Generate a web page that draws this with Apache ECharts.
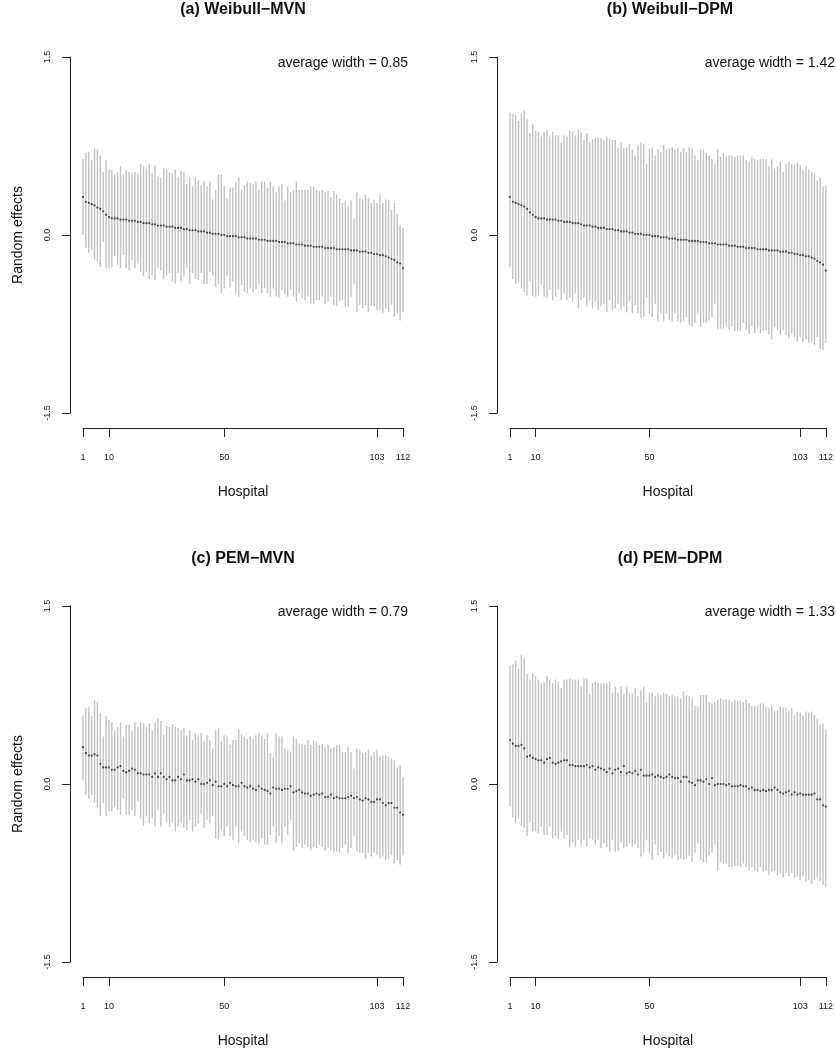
<!DOCTYPE html>
<html>
<head>
<meta charset="utf-8">
<script src="https://cdn.jsdelivr.net/npm/echarts@6/dist/echarts.min.js"></script>
<style>
  html, body { margin: 0; padding: 0; background: #fff; }
  #chart { width: 836px; height: 1050px; }
</style>
</head>
<body>
<div id="chart"></div>
<script>
// tick positions on both axes
const hospitalTicks = [1, 10, 50, 103, 112];
const effectTicks = [-1.5, 0, 1.5];

// (a) Weibull-MVN
const estA = [
  0.32,0.28,0.27,0.26,0.25,0.23,0.22,0.20,0.17,0.15,
  0.14,0.14,0.14,0.13,0.13,0.13,0.12,0.12,0.12,0.11,
  0.11,0.10,0.10,0.10,0.09,0.09,0.08,0.08,0.08,0.07,
  0.07,0.07,0.06,0.06,0.06,0.05,0.05,0.04,0.04,0.04,
  0.03,0.03,0.03,0.02,0.02,0.01,0.01,0.01,0.00,0.00,
  -0.01,-0.01,-0.01,-0.01,-0.02,-0.02,-0.02,-0.03,-0.03,-0.03,
  -0.03,-0.04,-0.04,-0.04,-0.05,-0.05,-0.05,-0.05,-0.06,-0.06,
  -0.06,-0.07,-0.07,-0.07,-0.08,-0.08,-0.08,-0.09,-0.09,-0.09,
  -0.10,-0.10,-0.10,-0.10,-0.11,-0.11,-0.11,-0.11,-0.12,-0.12,
  -0.12,-0.12,-0.12,-0.13,-0.13,-0.13,-0.14,-0.14,-0.14,-0.15,
  -0.15,-0.16,-0.16,-0.17,-0.17,-0.18,-0.19,-0.20,-0.21,-0.23,
  -0.24,-0.28
];
const upA = [
  0.64,0.69,0.70,0.63,0.73,0.72,0.67,0.53,0.63,0.55,
  0.55,0.51,0.53,0.58,0.51,0.55,0.53,0.52,0.53,0.52,
  0.60,0.58,0.56,0.60,0.52,0.59,0.49,0.48,0.56,0.55,
  0.53,0.52,0.55,0.49,0.54,0.53,0.43,0.49,0.41,0.48,
  0.46,0.42,0.45,0.41,0.45,0.30,0.38,0.51,0.51,0.41,
  0.31,0.40,0.40,0.45,0.49,0.38,0.42,0.45,0.44,0.43,
  0.45,0.38,0.45,0.45,0.40,0.45,0.41,0.36,0.41,0.43,
  0.29,0.41,0.36,0.38,0.45,0.38,0.38,0.38,0.38,0.41,
  0.41,0.38,0.37,0.38,0.36,0.37,0.32,0.37,0.34,0.31,
  0.27,0.29,0.24,0.29,0.14,0.36,0.31,0.30,0.34,0.31,
  0.27,0.30,0.27,0.34,0.27,0.30,0.29,0.21,0.27,0.18,
  0.08,0.06
];
const lowA = [
  0.00,-0.11,-0.15,-0.13,-0.21,-0.22,-0.27,-0.06,-0.28,-0.28,
  -0.27,-0.18,-0.25,-0.28,-0.17,-0.28,-0.30,-0.21,-0.28,-0.24,
  -0.31,-0.35,-0.31,-0.37,-0.34,-0.38,-0.28,-0.30,-0.37,-0.34,
  -0.32,-0.39,-0.41,-0.32,-0.39,-0.35,-0.28,-0.41,-0.32,-0.37,
  -0.38,-0.32,-0.41,-0.41,-0.31,-0.34,-0.44,-0.41,-0.49,-0.45,
  -0.34,-0.44,-0.39,-0.49,-0.52,-0.42,-0.48,-0.49,-0.45,-0.48,
  -0.46,-0.41,-0.49,-0.45,-0.49,-0.52,-0.45,-0.52,-0.53,-0.46,
  -0.50,-0.52,-0.46,-0.52,-0.56,-0.49,-0.53,-0.55,-0.52,-0.58,
  -0.58,-0.55,-0.55,-0.52,-0.58,-0.56,-0.52,-0.59,-0.60,-0.56,
  -0.55,-0.60,-0.60,-0.52,-0.42,-0.65,-0.59,-0.62,-0.59,-0.65,
  -0.60,-0.60,-0.63,-0.63,-0.66,-0.62,-0.65,-0.59,-0.69,-0.66,
  -0.72,-0.65
];

// (b) Weibull-DPM
const estB = [
  0.32,0.28,0.27,0.26,0.25,0.24,0.22,0.19,0.17,0.15,
  0.14,0.14,0.14,0.13,0.13,0.13,0.13,0.12,0.12,0.11,
  0.11,0.11,0.10,0.10,0.10,0.09,0.08,0.08,0.08,0.07,
  0.07,0.06,0.06,0.06,0.05,0.05,0.05,0.04,0.04,0.03,
  0.03,0.03,0.02,0.02,0.01,0.01,0.01,0.00,0.00,0.00,
  -0.01,-0.01,-0.01,-0.02,-0.02,-0.02,-0.03,-0.03,-0.03,-0.04,
  -0.04,-0.04,-0.04,-0.05,-0.05,-0.05,-0.05,-0.06,-0.06,-0.06,
  -0.07,-0.07,-0.07,-0.08,-0.08,-0.08,-0.08,-0.09,-0.09,-0.09,
  -0.10,-0.10,-0.10,-0.11,-0.11,-0.11,-0.11,-0.12,-0.12,-0.12,
  -0.12,-0.13,-0.13,-0.13,-0.13,-0.14,-0.14,-0.14,-0.15,-0.15,
  -0.16,-0.16,-0.17,-0.17,-0.18,-0.18,-0.19,-0.20,-0.22,-0.23,
  -0.25,-0.30
];
const upB = [
  1.03,1.02,1.01,0.96,1.02,1.05,0.98,0.86,0.94,0.88,
  0.87,0.83,0.87,0.88,0.83,0.87,0.84,0.84,0.78,0.84,
  0.83,0.88,0.87,0.84,0.89,0.87,0.80,0.86,0.78,0.81,
  0.82,0.82,0.82,0.80,0.83,0.81,0.80,0.80,0.74,0.78,
  0.73,0.74,0.77,0.72,0.67,0.76,0.78,0.77,0.60,0.73,
  0.74,0.67,0.72,0.70,0.76,0.72,0.73,0.74,0.72,0.73,
  0.70,0.73,0.70,0.74,0.73,0.67,0.63,0.72,0.72,0.69,
  0.67,0.64,0.60,0.72,0.66,0.69,0.67,0.67,0.67,0.66,
  0.67,0.67,0.67,0.63,0.62,0.66,0.64,0.63,0.64,0.64,
  0.64,0.58,0.64,0.56,0.58,0.62,0.53,0.60,0.62,0.60,
  0.59,0.61,0.59,0.55,0.58,0.55,0.53,0.52,0.46,0.48,
  0.41,0.42
];
const lowB = [
  -0.27,-0.37,-0.41,-0.39,-0.45,-0.48,-0.51,-0.39,-0.51,-0.52,
  -0.51,-0.42,-0.52,-0.53,-0.46,-0.55,-0.52,-0.46,-0.55,-0.49,
  -0.55,-0.53,-0.56,-0.49,-0.62,-0.55,-0.53,-0.60,-0.55,-0.62,
  -0.56,-0.63,-0.60,-0.58,-0.65,-0.55,-0.63,-0.62,-0.58,-0.63,
  -0.60,-0.65,-0.56,-0.66,-0.59,-0.66,-0.70,-0.69,-0.53,-0.66,
  -0.69,-0.58,-0.73,-0.66,-0.73,-0.66,-0.72,-0.73,-0.66,-0.73,
  -0.74,-0.73,-0.69,-0.76,-0.77,-0.74,-0.66,-0.77,-0.74,-0.74,
  -0.72,-0.69,-0.58,-0.80,-0.79,-0.79,-0.77,-0.80,-0.77,-0.81,
  -0.81,-0.81,-0.74,-0.80,-0.83,-0.77,-0.83,-0.79,-0.83,-0.81,
  -0.80,-0.84,-0.88,-0.77,-0.80,-0.84,-0.80,-0.84,-0.87,-0.83,
  -0.86,-0.90,-0.86,-0.90,-0.88,-0.91,-0.90,-0.93,-0.86,-0.96,
  -0.97,-0.91
];

// (c) PEM-MVN
const estC = [
  0.31,0.26,0.24,0.24,0.25,0.24,0.17,0.14,0.14,0.14,
  0.12,0.12,0.14,0.15,0.11,0.10,0.11,0.13,0.12,0.09,
  0.09,0.08,0.08,0.08,0.06,0.09,0.06,0.09,0.06,0.04,
  0.06,0.03,0.03,0.06,0.04,0.08,0.03,0.03,0.04,0.02,
  0.04,0.00,0.00,0.01,0.03,-0.01,0.02,-0.02,-0.02,0.00,
  -0.02,0.01,-0.01,-0.02,-0.02,0.01,-0.02,-0.03,-0.02,-0.04,
  -0.05,-0.02,-0.04,-0.05,-0.06,-0.08,-0.03,-0.04,-0.04,-0.05,
  -0.04,-0.04,-0.02,-0.07,-0.06,-0.05,-0.07,-0.08,-0.08,-0.10,
  -0.09,-0.08,-0.09,-0.08,-0.11,-0.11,-0.09,-0.12,-0.11,-0.12,
  -0.12,-0.12,-0.11,-0.10,-0.12,-0.11,-0.13,-0.14,-0.12,-0.13,
  -0.15,-0.15,-0.13,-0.13,-0.16,-0.18,-0.16,-0.16,-0.20,-0.20,
  -0.24,-0.26
];
const upC = [
  0.58,0.64,0.65,0.57,0.71,0.69,0.60,0.40,0.57,0.54,
  0.52,0.45,0.48,0.52,0.40,0.50,0.50,0.45,0.52,0.48,
  0.52,0.51,0.48,0.51,0.45,0.52,0.55,0.53,0.41,0.49,
  0.48,0.50,0.48,0.47,0.45,0.47,0.41,0.45,0.37,0.43,
  0.41,0.43,0.36,0.41,0.37,0.30,0.45,0.47,0.36,0.41,
  0.40,0.33,0.37,0.37,0.46,0.42,0.40,0.38,0.40,0.38,
  0.41,0.43,0.41,0.38,0.43,0.26,0.23,0.43,0.40,0.40,
  0.30,0.29,0.27,0.40,0.38,0.34,0.34,0.33,0.37,0.33,
  0.37,0.36,0.33,0.34,0.31,0.33,0.30,0.31,0.33,0.33,
  0.27,0.27,0.31,0.27,0.13,0.30,0.29,0.26,0.27,0.29,
  0.24,0.27,0.29,0.23,0.24,0.24,0.23,0.22,0.20,0.14,
  0.16,0.06
];
const lowC = [
  0.03,-0.09,-0.12,-0.09,-0.16,-0.20,-0.27,-0.16,-0.27,-0.23,
  -0.23,-0.19,-0.22,-0.26,-0.12,-0.26,-0.26,-0.22,-0.27,-0.15,
  -0.29,-0.35,-0.27,-0.33,-0.29,-0.36,-0.22,-0.36,-0.25,-0.32,
  -0.36,-0.32,-0.40,-0.36,-0.33,-0.37,-0.39,-0.30,-0.40,-0.36,
  -0.33,-0.25,-0.37,-0.30,-0.33,-0.27,-0.46,-0.47,-0.39,-0.44,
  -0.36,-0.44,-0.47,-0.36,-0.50,-0.40,-0.44,-0.47,-0.49,-0.47,
  -0.49,-0.50,-0.46,-0.51,-0.51,-0.43,-0.36,-0.50,-0.44,-0.50,
  -0.36,-0.43,-0.30,-0.56,-0.53,-0.50,-0.54,-0.51,-0.53,-0.56,
  -0.53,-0.54,-0.51,-0.53,-0.56,-0.54,-0.56,-0.58,-0.57,-0.58,
  -0.54,-0.51,-0.58,-0.54,-0.44,-0.57,-0.58,-0.58,-0.63,-0.58,
  -0.61,-0.58,-0.60,-0.63,-0.61,-0.64,-0.63,-0.60,-0.67,-0.64,
  -0.68,-0.60
];

// (d) PEM-DPM
const estD = [
  0.37,0.34,0.32,0.32,0.33,0.30,0.23,0.24,0.22,0.21,
  0.20,0.20,0.18,0.21,0.22,0.18,0.17,0.18,0.19,0.20,
  0.20,0.16,0.16,0.15,0.15,0.15,0.15,0.16,0.14,0.15,
  0.12,0.14,0.13,0.12,0.10,0.13,0.09,0.12,0.13,0.10,
  0.15,0.09,0.10,0.09,0.11,0.08,0.12,0.07,0.07,0.07,
  0.08,0.06,0.07,0.06,0.05,0.06,0.08,0.06,0.05,0.05,
  0.02,0.06,0.06,0.02,0.01,-0.01,0.03,0.03,0.02,0.04,
  0.00,0.05,-0.01,0.00,0.00,0.00,-0.01,0.00,-0.02,-0.02,
  -0.02,-0.01,-0.02,-0.02,-0.04,-0.03,-0.05,-0.05,-0.06,-0.05,
  -0.06,-0.05,-0.05,-0.03,-0.05,-0.07,-0.08,-0.07,-0.06,-0.09,
  -0.07,-0.09,-0.08,-0.09,-0.09,-0.09,-0.09,-0.08,-0.13,-0.13,
  -0.18,-0.19
];
const upD = [
  1.00,1.01,1.04,0.97,1.09,1.06,0.93,0.88,0.93,0.91,
  0.88,0.85,0.86,0.91,0.88,0.85,0.88,0.86,0.81,0.88,
  0.88,0.89,0.88,0.88,0.88,0.82,0.89,0.89,0.76,0.85,
  0.86,0.85,0.85,0.85,0.85,0.86,0.77,0.82,0.77,0.82,
  0.76,0.82,0.77,0.76,0.81,0.74,0.79,0.82,0.69,0.77,
  0.77,0.74,0.76,0.75,0.77,0.76,0.74,0.75,0.74,0.74,
  0.72,0.78,0.75,0.74,0.72,0.66,0.65,0.75,0.75,0.75,
  0.69,0.68,0.69,0.71,0.72,0.71,0.71,0.71,0.69,0.71,
  0.70,0.70,0.69,0.71,0.68,0.66,0.66,0.66,0.68,0.68,
  0.65,0.64,0.66,0.62,0.62,0.65,0.64,0.64,0.62,0.64,
  0.58,0.61,0.60,0.58,0.61,0.60,0.61,0.58,0.55,0.50,
  0.51,0.46
];
const lowD = [
  -0.19,-0.28,-0.33,-0.29,-0.35,-0.37,-0.44,-0.32,-0.40,-0.40,
  -0.42,-0.36,-0.43,-0.43,-0.36,-0.46,-0.44,-0.46,-0.40,-0.46,
  -0.43,-0.53,-0.49,-0.53,-0.47,-0.51,-0.47,-0.53,-0.46,-0.47,
  -0.51,-0.47,-0.54,-0.50,-0.53,-0.57,-0.47,-0.57,-0.56,-0.49,
  -0.54,-0.53,-0.50,-0.53,-0.51,-0.54,-0.61,-0.58,-0.47,-0.58,
  -0.64,-0.51,-0.60,-0.57,-0.63,-0.58,-0.61,-0.63,-0.60,-0.64,
  -0.63,-0.64,-0.63,-0.61,-0.66,-0.58,-0.50,-0.64,-0.66,-0.66,
  -0.60,-0.58,-0.51,-0.73,-0.66,-0.67,-0.67,-0.70,-0.70,-0.69,
  -0.69,-0.70,-0.67,-0.70,-0.73,-0.70,-0.73,-0.74,-0.70,-0.74,
  -0.73,-0.77,-0.74,-0.73,-0.77,-0.75,-0.79,-0.75,-0.78,-0.75,
  -0.79,-0.78,-0.81,-0.78,-0.82,-0.81,-0.84,-0.81,-0.79,-0.82,
  -0.85,-0.87
];

const panels = [
  { title: "(a) Weibull\u2212MVN", avgWidth: "0.85", est: estA, low: lowA, up: upA, left: 83, top: 57, yName: true },
  { title: "(b) Weibull\u2212DPM", avgWidth: "1.42", est: estB, low: lowB, up: upB, left: 510, top: 57, yName: false },
  { title: "(c) PEM\u2212MVN", avgWidth: "0.79", est: estC, low: lowC, up: upC, left: 83, top: 606, yName: true },
  { title: "(d) PEM\u2212DPM", avgWidth: "1.33", est: estD, low: lowD, up: upD, left: 510, top: 606, yName: false }
];

const FONT = "Liberation Sans, Arial, Helvetica, sans-serif";
const plotW = 320, plotH = 356;

const chart = echarts.init(document.getElementById("chart"));

const titles = [], grids = [], xAxes = [], yAxes = [], series = [];

panels.forEach((p, i) => {
  titles.push({
    text: p.title,
    left: p.left + plotW / 2,
    top: p.top - 55,
    textAlign: "center",
    padding: 0,
    textStyle: { fontFamily: FONT, fontSize: 16, fontWeight: "bold", color: "#111" }
  });
  titles.push({
    text: "average width = " + p.avgWidth,
    left: p.left + plotW + 5,
    top: p.top - 1,
    textAlign: "right",
    padding: 0,
    textStyle: { fontFamily: FONT, fontSize: 14, fontWeight: "normal", color: "#111" }
  });
  grids.push({ left: p.left, top: p.top, width: plotW, height: plotH });
  xAxes.push({
    gridIndex: i,
    type: "value",
    min: 1,
    max: 112,
    offset: 15,
    name: "Hospital",
    nameLocation: "middle",
    nameGap: 57,
    nameTextStyle: { fontFamily: FONT, fontSize: 14, color: "#111" },
    axisLine: { show: true, onZero: false, lineStyle: { color: "#222", width: 1 } },
    axisTick: { show: true, length: 9, customValues: hospitalTicks, lineStyle: { color: "#222" } },
    axisLabel: { customValues: hospitalTicks, margin: 25, fontFamily: FONT, fontSize: 9, color: "#111" },
    splitLine: { show: false }
  });
  yAxes.push({
    gridIndex: i,
    type: "value",
    min: -1.5,
    max: 1.5,
    offset: 13,
    name: p.yName ? "Random effects" : "",
    nameLocation: "middle",
    nameGap: 45,
    nameTextStyle: { fontFamily: FONT, fontSize: 14, color: "#111" },
    axisLine: { show: true, onZero: false, lineStyle: { color: "#222", width: 1 } },
    axisTick: { show: true, length: 8, customValues: effectTicks, lineStyle: { color: "#222" } },
    axisLabel: {
      customValues: effectTicks,
      rotate: 90,
      margin: 18,
      fontFamily: FONT,
      fontSize: 9,
      color: "#111",
      formatter: (v) => v.toFixed(1)
    },
    splitLine: { show: false }
  });
  const intervals = p.est.map((e, k) => [k + 1, p.low[k], p.up[k]]);
  const points = p.est.map((e, k) => [k + 1, e]);
  series.push({
    type: "custom",
    xAxisIndex: i,
    yAxisIndex: i,
    silent: true,
    renderItem: (params, api) => {
      const a = api.coord([api.value(0), api.value(1)]);
      const b = api.coord([api.value(0), api.value(2)]);
      return {
        type: "line",
        shape: { x1: a[0], y1: a[1], x2: b[0], y2: b[1] },
        style: { stroke: "#c2c2c2", lineWidth: 1.4 }
      };
    },
    data: intervals
  });
  series.push({
    type: "scatter",
    xAxisIndex: i,
    yAxisIndex: i,
    silent: true,
    symbol: "circle",
    symbolSize: 2.2,
    itemStyle: { color: "#222" },
    data: points,
    z: 3
  });
});

chart.setOption({
  backgroundColor: "#fff",
  animation: false,
  title: titles,
  grid: grids,
  xAxis: xAxes,
  yAxis: yAxes,
  series: series
});
</script>
</body>
</html>
